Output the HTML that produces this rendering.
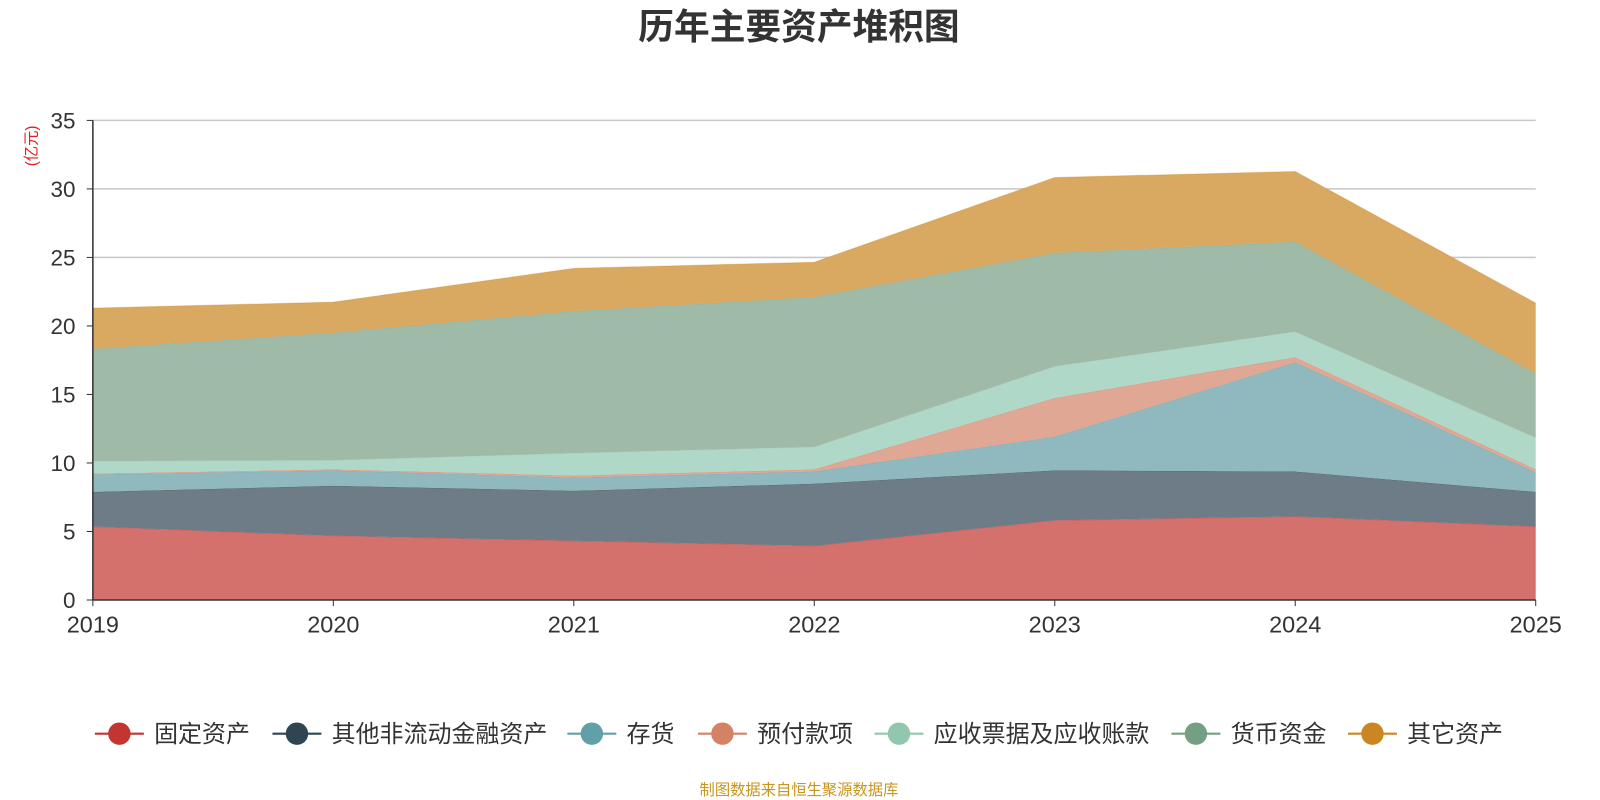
<!DOCTYPE html>
<html><head><meta charset="utf-8">
<style>
html,body{margin:0;padding:0;background:#fff;width:1600px;height:800px;overflow:hidden;}
svg{display:block;font-family:"Liberation Sans","Noto Sans CJK SC",sans-serif;}
</style></head>
<body>
<svg id="chart" width="1600" height="800" viewBox="0 0 1568 784">
<text x="783" y="38" text-anchor="middle" font-size="35" font-weight="bold" fill="#333">历年主要资产堆积图</text>
<text transform="translate(36,143) rotate(-90)" text-anchor="middle" font-size="15" fill="#e02020">(亿元)</text>
<g id="grid"></g>
<g id="areas"></g>
<g id="axes"></g>
<g id="legend"></g>
<text x="783" y="779" text-anchor="middle" font-size="15" fill="#c8951e">制图数据来自恒生聚源数据库</text>
</svg>
<script>
const years = ['2019','2020','2021','2022','2023','2024','2025'];
const seriesNames = ['固定资产','其他非流动金融资产','存货','预付款项','应收票据及应收账款','货币资金','其它资产'];
const fixedAssets = [5.36,4.69,4.32,3.95,5.81,6.10,5.36];
const otherNonCurrentFin = [2.53,3.65,3.65,4.54,3.65,3.28,2.53];
const inventory = [1.27,1.12,0.97,0.89,2.45,7.97,1.42];
const prepayments = [0.07,0.07,0.14,0.15,2.83,0.37,0.22];
const receivables = [0.90,0.67,1.64,1.64,2.31,1.86,2.31];
const cash = [8.19,9.30,10.35,10.94,8.27,6.56,4.69];
const otherAssets = [2.98,2.24,3.13,2.54,5.51,5.13,5.14];
const yTicks = [0,5,10,15,20,25,30,35];
const seriesValues = [fixedAssets,otherNonCurrentFin,inventory,prepayments,receivables,cash,otherAssets];
const lineColors = ['#c23531','#2f4554','#61a0a8','#d48265','#91c7ae','#749f83','#ca8622'];
const fillColors = ['#d4716d','#6e7c87','#8fb8bf','#dfa794','#b0d8c8','#9fbba7','#d9a962'];
const slugs = ['fixed-assets','other-noncurrent-financial','inventory','prepayments','receivables','cash','other-assets'];

const X0=91, X1=1505, Y0=588, Y1=118, YMAX=35;
const xs = i => X0 + (X1-X0)*i/(years.length-1);
const ys = v => Y0 - (Y0-Y1)*v/YMAX;
const NS='http://www.w3.org/2000/svg';
function mk(tag, attrs, parent){const e=document.createElementNS(NS,tag);for(const k in attrs)e.setAttribute(k,attrs[k]);parent.appendChild(e);return e;}

const grid=document.getElementById('grid'), axes=document.getElementById('axes'), areas=document.getElementById('areas'), legend=document.getElementById('legend');
yTicks.forEach(t=>{
  if(t>0){const l=mk('line',{x1:X0,x2:X1,y1:ys(t),y2:ys(t),stroke:'#c8c8c8','stroke-width':1.5},grid);
  
  }
  const tx=mk('text',{x:X0-17,y:ys(t)+8,'text-anchor':'end','font-size':22,fill:'#333'},axes);
  tx.textContent=t;
  
  
  const tk=mk('line',{x1:X0-6,x2:X0,y1:ys(t),y2:ys(t),stroke:'#333'},axes);
  
  
});
let base=years.map(()=>0);
seriesValues.forEach((vals,si)=>{
  const top=base.map((b,i)=>b+vals[i]);
  let d='M'+years.map((_,i)=>xs(i)+','+ys(top[i])).join('L');
  for(let i=years.length-1;i>=0;i--) d+='L'+xs(i)+','+ys(base[i]);
  d+='Z';
  const p=mk('path',{d:d,fill:fillColors[si],stroke:'none'},areas);
  
  
  const ln=mk('polyline',{points:years.map((_,i)=>xs(i)+','+ys(top[i])).join(' '),fill:'none',stroke:lineColors[si],'stroke-opacity':0.35,'stroke-width':1},areas);
  
  
  base=top;
});
const ya=mk('line',{x1:X0,x2:X0,y1:Y1,y2:Y0,stroke:'#333','stroke-width':1.5},axes);


const xa=mk('line',{x1:X0,x2:X1,y1:Y0,y2:Y0,stroke:'#333','stroke-width':1.5},axes);


years.forEach((y,i)=>{
  const tk=mk('line',{x1:xs(i),x2:xs(i),y1:Y0,y2:Y0+6,stroke:'#333'},axes);
  
  
  const t=mk('text',{x:xs(i),y:Y0+32,'text-anchor':'middle','font-size':23,fill:'#333'},axes);
  t.textContent=y;
  
  
});
const lx=[93,267,556,684,857,1148,1321];
seriesNames.forEach((n,i)=>{
  const g=mk('g',{},legend);
  
  
  mk('line',{x1:lx[i],x2:lx[i]+48,y1:719,y2:719,stroke:lineColors[i],'stroke-width':2},g);
  mk('circle',{cx:lx[i]+24,cy:719,r:11,fill:lineColors[i]},g);
  const t=mk('text',{x:lx[i]+58,y:727,'font-size':23.5,fill:'#333'},g);
  t.textContent=n;
});
</script>
</body></html>
